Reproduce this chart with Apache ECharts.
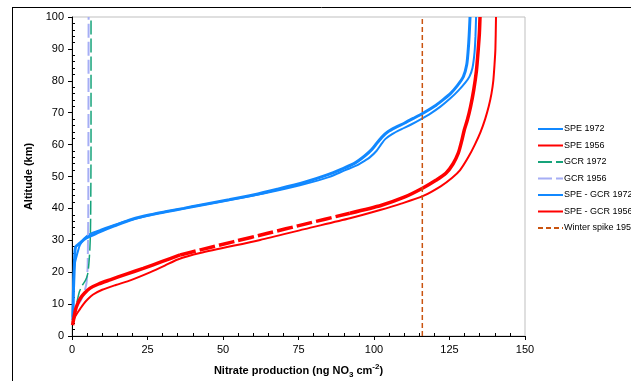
<!DOCTYPE html>
<html>
<head>
<meta charset="utf-8">
<script src="https://cdn.jsdelivr.net/npm/echarts@6/dist/echarts.min.js"></script>
<style>html,body{margin:0;padding:0;background:#fff}#c{width:631px;height:381px}</style>
</head>
<body>
<div id="c"></div>
<script>
// ---- data (x = nitrate production, y = altitude km) ----
const xTicks = [0, 25, 50, 75, 100, 125, 150];
const yTicks = [0, 10, 20, 30, 40, 50, 60, 70, 80, 90, 100];

const spe1972Alt = [6, 10, 15, 20, 23, 26, 28.5, 30.5, 32, 33.2, 34.8, 36.5, 37.9, 39, 40, 41, 42.6, 44, 45.6, 47.6, 49.8, 52, 53.5, 55, 56, 58, 60, 61.8, 63.3, 64.8, 66.3, 68, 69.8, 71.9, 74.5, 77, 79.5, 81.3, 84, 89, 94, 100];
const spe1972 =    [0.2, 0.3, 0.4, 0.6, 1.0, 1.8, 2.6, 4, 6, 9.3, 14, 20, 26, 31.4, 37, 42.4, 52, 60, 68, 77, 85, 90.5, 94.3, 97, 98.6, 100.8, 102.3, 103.8, 106, 109, 112.3, 115.6, 118.8, 122, 125.3, 128, 130.3, 131.6, 132.6, 133.3, 133.6, 133.8];

const spe1956Alt = [4.4, 5.5, 7, 8.5, 10, 11.5, 13, 14.5, 16, 17.5, 20, 22, 24, 26, 30.1, 33.5, 36.9, 39.5, 41.5, 43.9, 47, 49.5, 52, 56, 60, 64, 68, 72, 76, 80, 85, 90, 100];
const spe1956 =    [0.2, 0.7, 1.6, 2.7, 3.8, 5.2, 7, 10, 14.5, 19.5, 26, 30.6, 35, 42.4, 62.3, 77, 92, 102, 109, 116.3, 122.2, 125.8, 128.5, 131.2, 133.4, 135.3, 136.8, 138, 138.9, 139.5, 139.9, 140.2, 140.4];

const gcr1972Alt = [5, 10, 14, 16, 17.5, 19.5, 22.8, 27, 32, 40, 60, 100];
const gcr1972 =    [0.5, 1.5, 2.5, 3.5, 4.5, 5.2, 5.6, 5.9, 6.1, 6.2, 6.3, 6.3];

const gcr1956Alt = [4, 6, 9, 11.3, 13.5, 16.6, 20, 22.8, 30, 40, 100];
const gcr1956 =    [0.2, 0.7, 1.5, 3, 4, 4.8, 5.1, 5.2, 5.3, 5.4, 5.5];

const speGcr1972Alt = [5, 10, 15, 20, 25, 28, 29, 30.5, 31.5, 32.8, 34.5, 36.6, 38, 39, 40, 41, 42.7, 44.2, 46, 48.2, 50.5, 52.4, 54.1, 56.5, 58.5, 60.5, 62.5, 64, 65.3, 66.7, 68.2, 70, 72, 73.8, 76, 78.5, 81.3, 85, 89.7, 94, 100];
const speGcr1972 =    [0.3, 0.4, 0.5, 0.7, 0.9, 1.2, 2.5, 4.3, 6.5, 9.5, 14, 20, 26, 31.4, 37, 42.4, 52, 60, 68, 77, 84.5, 89.5, 93.5, 97, 99.3, 101, 102.8, 104.6, 107, 110, 113, 116.5, 120, 122.5, 125.3, 127.6, 129.6, 130.7, 131.2, 131.5, 131.8];

const speGcr1956Alt = [3.4, 4.5, 6, 8, 10, 12, 13.5, 15, 16.3, 17.6, 19.4, 21.2, 23.3, 25.4, 27, 29.6, 32.2, 35, 38.5, 41, 43.5, 46.4, 48.8, 51, 54, 57.3, 61, 64.6, 67.7, 72, 77, 83, 89.7, 95, 100];
const speGcr1956 =    [0.2, 0.4, 0.7, 1.1, 1.8, 2.9, 4.2, 6, 8.8, 12.6, 18, 23.6, 29.7, 35.8, 42.5, 53.6, 64.8, 76.8, 92, 102.5, 110, 116.2, 120.5, 123.8, 126.2, 127.9, 129, 129.9, 130.9, 132, 133, 133.9, 134.5, 134.9, 135.1];
// portion of SPE - GCR 1956 that shows as a broken (dashed) stroke in the original
const speGcr1956BrokenFrom = 25.4, speGcr1956BrokenTo = 38.5;

const winterSpikeAlt = [0, 100];
const winterSpike = [116, 116];

const names = ['SPE 1972', 'SPE 1956', 'GCR 1972', 'GCR 1956', 'SPE - GCR 1972', 'SPE - GCR 1956', 'Winter spike 1956'];

function pairs(xs, ys) { return xs.map((v, i) => [v, ys[i]]); }
function pairsRange(xs, ys, lo, hi) {
  const out = [];
  xs.forEach((v, i) => { if (ys[i] >= lo && ys[i] <= hi) out.push([v, ys[i]]); });
  return out;
}

const BLUE = '#1188ff', RED = '#ff0000', GREEN = '#16a37a', LAV = '#a6aef5', ORANGE = '#c9530f';

function lineSeries(name, data, color, width, type, z) {
  return {
    name: name, type: 'line', data: data, showSymbol: false, symbol: 'none',
    smooth: 0.25, z: z || 2,
    lineStyle: { color: color, width: width, type: type || 'solid' },
    itemStyle: { color: color }, animation: false
  };
}

const chart = echarts.init(document.getElementById('c'), null, { renderer: 'canvas' });
const axisLabel = { color: '#000', fontSize: 11, fontFamily: 'Liberation Sans, Arial, sans-serif' };

chart.setOption({
  animation: false,
  backgroundColor: '#fff',
  grid: { left: 72, right: 106, top: 17, bottom: 45, show: true, borderColor: '#bfbfbf', borderWidth: 1, backgroundColor: 'transparent', containLabel: false, outerBoundsMode: 'none' },
  xAxis: [{
    type: 'value', min: xTicks[0], max: xTicks[xTicks.length - 1], interval: 25,
    axisLine: { show: true, onZero: false, lineStyle: { color: '#000', width: 1 } },
    axisTick: { show: true, length: 4, lineStyle: { color: '#000' } },
    splitLine: { show: false },
    axisLabel: Object.assign({ margin: 8 }, axisLabel),
    name: '{b|Nitrate production (ng NO}{s|3}{b| cm}{p|-2}{b|)}',
    nameLocation: 'middle', nameGap: 27,
    nameTextStyle: {
      rich: {
        b: { fontSize: 11, fontWeight: 'bold', color: '#000', fontFamily: 'Liberation Sans, Arial', lineHeight: 16, verticalAlign: 'middle' },
        s: { fontSize: 8, fontWeight: 'bold', color: '#000', fontFamily: 'Liberation Sans, Arial', lineHeight: 16, verticalAlign: 'bottom' },
        p: { fontSize: 8, fontWeight: 'bold', color: '#000', fontFamily: 'Liberation Sans, Arial', lineHeight: 16, verticalAlign: 'top' }
      }
    }
  }, {
    type: 'value', min: xTicks[0], max: xTicks[xTicks.length - 1], interval: 25, position: 'bottom',
    axisLine: { show: false, onZero: false }, axisLabel: { show: false },
    axisTick: { show: false, inside: true }, splitLine: { show: false },
    minorTick: { show: true, splitNumber: 5, length: 3, lineStyle: { color: '#000' } }
  }],
  yAxis: [{
    type: 'value', min: yTicks[0], max: yTicks[yTicks.length - 1], interval: 10,
    axisLine: { show: true, onZero: false, lineStyle: { color: '#000', width: 1 } },
    axisTick: { show: true, length: 4, lineStyle: { color: '#000' } },
    splitLine: { show: false },
    axisLabel: Object.assign({ margin: 8 }, axisLabel),
    name: 'Altitude (km)', nameLocation: 'middle', nameGap: 38,
    nameTextStyle: { fontSize: 11, fontWeight: 'bold', color: '#000', fontFamily: 'Liberation Sans, Arial' }
  }, {
    type: 'value', min: yTicks[0], max: yTicks[yTicks.length - 1], interval: 10, position: 'left',
    axisLine: { show: false, onZero: false }, axisLabel: { show: false },
    axisTick: { show: false, inside: true }, splitLine: { show: false },
    minorTick: { show: true, splitNumber: 5, length: 3, lineStyle: { color: '#000' } }
  }],
  legend: {
    orient: 'vertical', left: 537, top: 123, padding: 0, itemWidth: 25, itemHeight: 12, itemGap: 4.5,
    data: names,
    itemStyle: { opacity: 0 },
    textStyle: { fontSize: 9, color: '#000', fontFamily: 'Liberation Sans, Arial', lineHeight: 12, padding: [0, 0, 0, -4] }
  },
  series: [
    lineSeries(names[0], pairs(spe1972, spe1972Alt), BLUE, 2, 'solid', 2),
    lineSeries(names[1], pairs(spe1956, spe1956Alt), RED, 2, 'solid', 2),
    lineSeries(names[2], pairs(gcr1972, gcr1972Alt), GREEN, 1.5, [14, 4], 3),
    lineSeries(names[3], pairs(gcr1956, gcr1956Alt), LAV, 2, [14, 4], 2),
    lineSeries(names[4], pairs(speGcr1972, speGcr1972Alt), BLUE, 3, 'solid', 3),
    lineSeries(names[5], pairsRange(speGcr1956, speGcr1956Alt, 0, speGcr1956BrokenFrom), RED, 3.5, 'solid', 3),
    lineSeries(names[5], pairsRange(speGcr1956, speGcr1956Alt, speGcr1956BrokenFrom, speGcr1956BrokenTo), RED, 3.5, [16, 4], 3),
    lineSeries(names[5], pairsRange(speGcr1956, speGcr1956Alt, speGcr1956BrokenTo, 100), RED, 3.5, 'solid', 3),
    Object.assign(lineSeries(names[6], pairs(winterSpike, winterSpikeAlt), ORANGE, 1.5, [5, 3], 5), { smooth: false })
  ],
  graphic: [
    { type: 'line', shape: { x1: 12, y1: 7.5, x2: 631, y2: 7.5 }, style: { stroke: '#000', lineWidth: 1 }, silent: true },
    { type: 'line', shape: { x1: 12.5, y1: 7, x2: 12.5, y2: 381 }, style: { stroke: '#000', lineWidth: 1 }, silent: true }
  ]
});
</script>
</body>
</html>
